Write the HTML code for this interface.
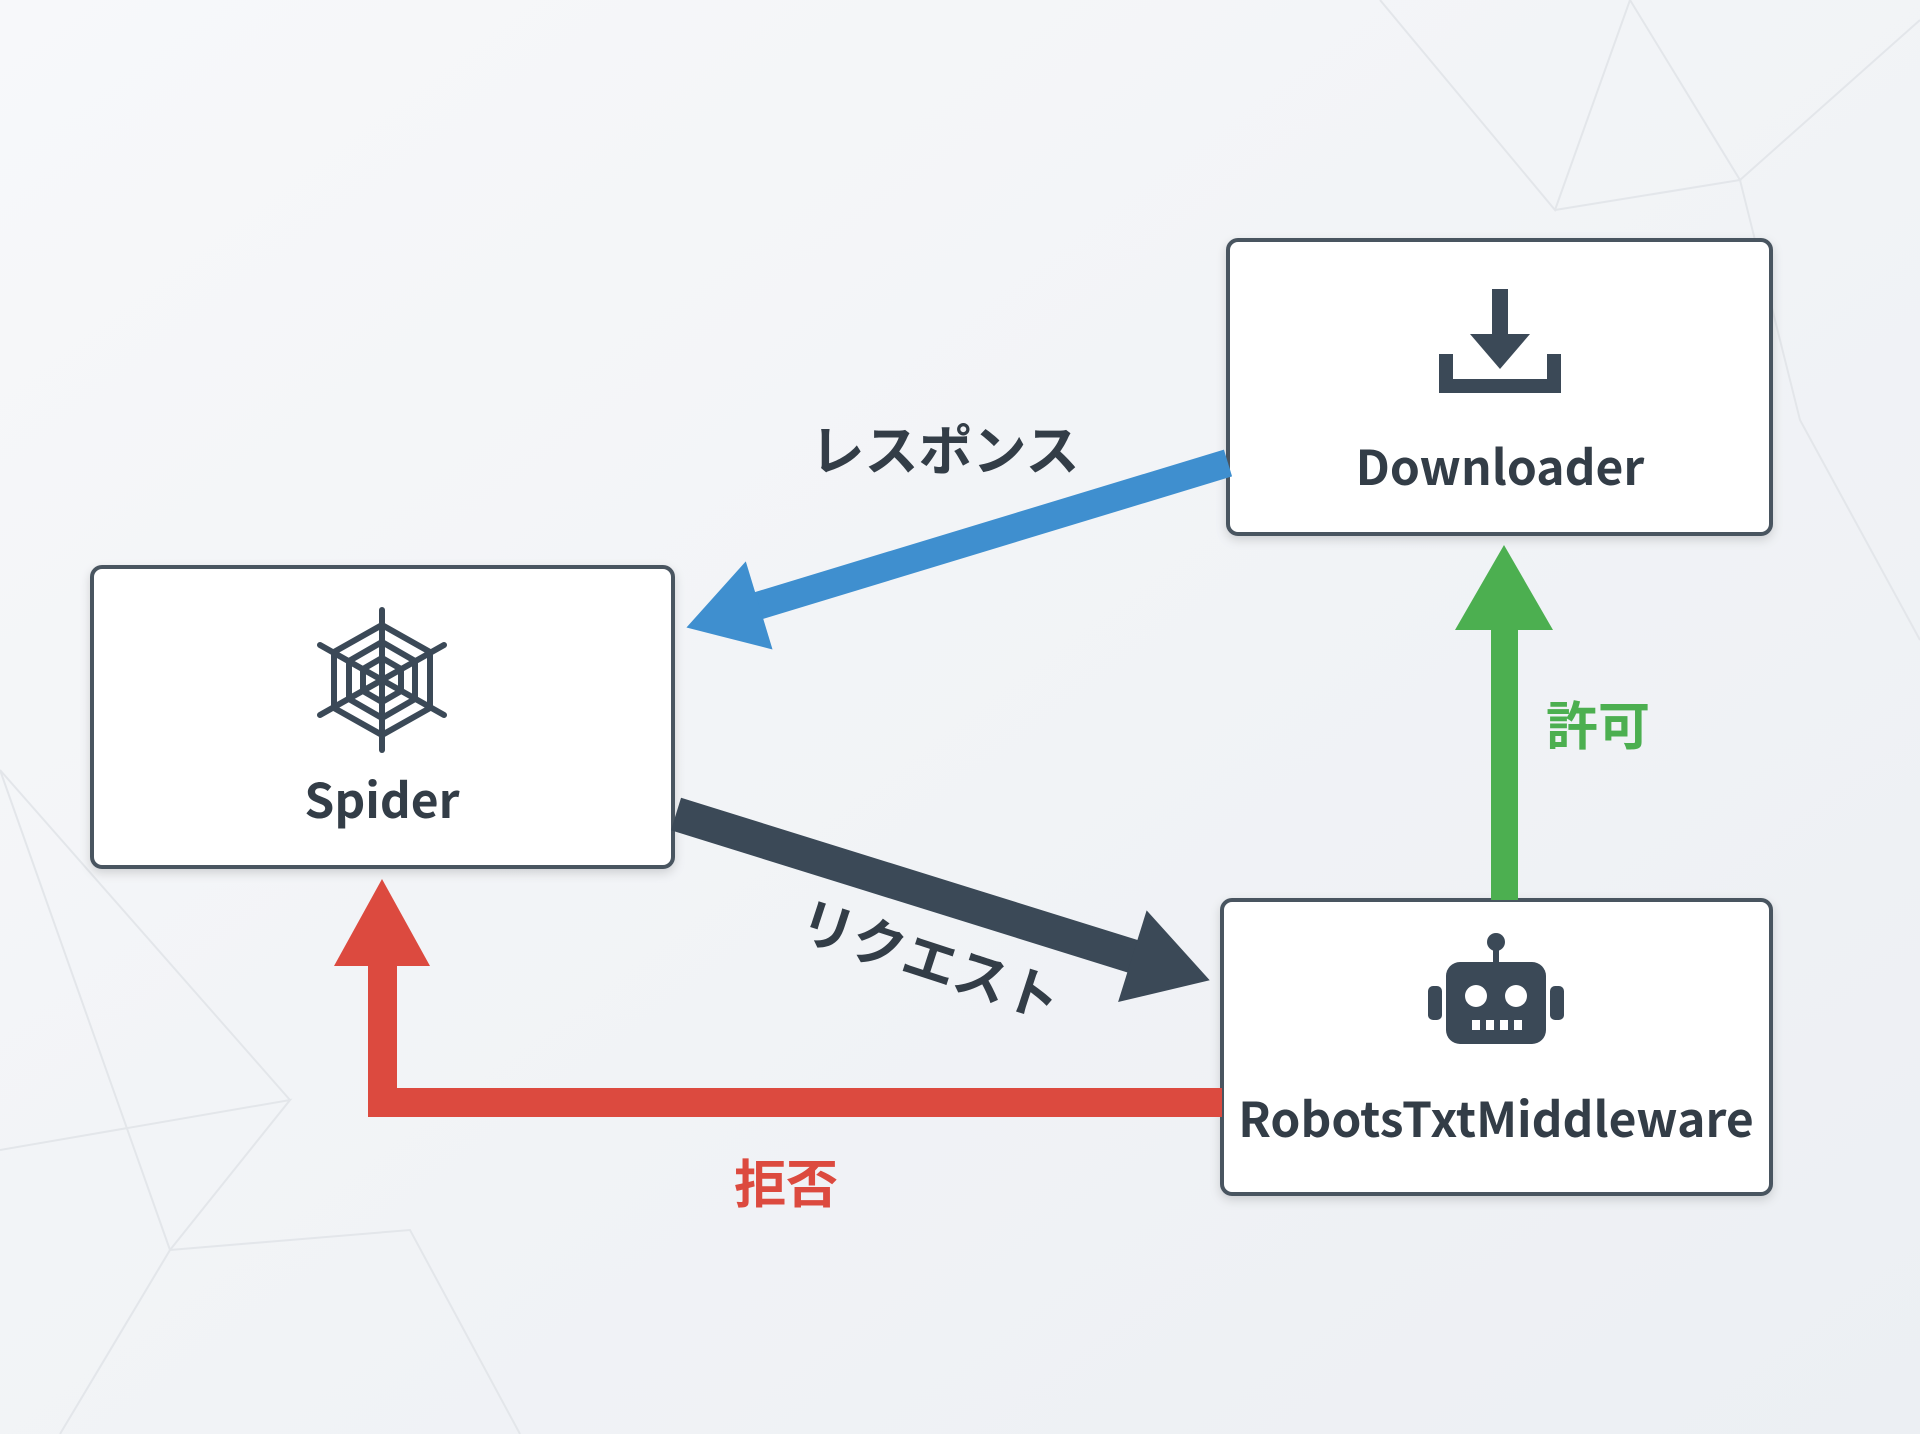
<!DOCTYPE html>
<html><head><meta charset="utf-8"><style>
html,body{margin:0;padding:0;width:1920px;height:1434px;overflow:hidden;background:#f2f4f7;}
svg{display:block}
text{font-family:"Noto Sans CJK JP","Liberation Sans",sans-serif;font-weight:bold;}
</style></head><body>
<svg width="1920" height="1434" viewBox="0 0 1920 1434" xmlns="http://www.w3.org/2000/svg">
<defs>
<linearGradient id="bg" x1="0" y1="0" x2="1" y2="1">
<stop offset="0" stop-color="#f7f8fa"/><stop offset="1" stop-color="#eceff3"/>
</linearGradient>
<filter id="sh" x="-10%" y="-10%" width="120%" height="130%"><feDropShadow dx="0" dy="4" stdDeviation="5" flood-color="#000" flood-opacity="0.15"/></filter>
</defs>
<rect width="1920" height="1434" fill="url(#bg)"/>
<g stroke="#e3e6ea" stroke-width="2" fill="none">
<polyline points="1380,0 1555,210 1630,0 1740,180 1555,210"/>
<polyline points="1740,180 1920,20"/>
<polyline points="1740,180 1800,420 1920,640"/>
<polyline points="0,770 170,1250 290,1100 0,1150"/>
<polyline points="170,1250 60,1434"/>
<polyline points="170,1250 410,1230 520,1434"/>
<polyline points="0,770 290,1100"/>
</g>
<g filter="url(#sh)" fill="#fff" stroke="#4a5560" stroke-width="4">
<rect x="92" y="567" width="581" height="300" rx="10"/>
<rect x="1228" y="240" width="543" height="294" rx="10"/>
<rect x="1222" y="900" width="549" height="294" rx="10"/>
</g>
<g transform="translate(1228,463) rotate(163.1)" fill="#3f8fcf">
<rect x="0" y="-14" width="500" height="28"/>
<polygon points="490,-46 566,0 490,46"/>
</g>
<g transform="translate(676,814) rotate(17.3)" fill="#3b4957">
<rect x="0" y="-17" width="490" height="34"/>
<polygon points="478,-48 559,0 478,48"/>
</g>
<g fill="#4caf50">
<rect x="1491" y="620" width="27" height="280"/>
<polygon points="1455,630 1504,545 1553,630"/>
</g>
<g fill="#dc4a3f">
<rect x="368" y="1088" width="854" height="29"/>
<rect x="368" y="955" width="29" height="162"/>
<polygon points="334,966 382,879 430,966"/>
</g>
<text x="945" y="470" font-size="54" fill="#333d47" text-anchor="middle">レスポンス</text>
<text x="930" y="980" font-size="54" fill="#333d47" text-anchor="middle" transform="rotate(18 930 961)">リクエスト</text>
<text x="1598" y="745" font-size="52" fill="#4caf50" text-anchor="middle">許可</text>
<text x="786" y="1203" font-size="52" fill="#dc4a3f" text-anchor="middle">拒否</text>
<text x="382" y="818" font-size="48" fill="#333d47" text-anchor="middle">Spider</text>
<text x="1500" y="485" font-size="48" fill="#333d47" text-anchor="middle">Downloader</text>
<text x="1496" y="1137" font-size="48" fill="#333d47" text-anchor="middle">RobotsTxtMiddleware</text>
<g transform="translate(382,680)" stroke="#3b4957" stroke-width="6" fill="none" stroke-linecap="round">
<line x1="0" y1="-70" x2="0" y2="70"/>
<line x1="-62" y1="-35" x2="62" y2="35"/>
<line x1="-62" y1="35" x2="62" y2="-35"/>
<polygon points="0,-55 48,-28 48,28 0,55 -48,28 -48,-28"/>
<polygon points="0,-38 33,-19 33,19 0,38 -33,19 -33,-19"/>
<polygon points="0,-22 19,-11 19,11 0,22 -19,11 -19,-11"/>
</g>
<g transform="translate(1500,349)" fill="#3b4957">
<rect x="-8" y="-60" width="16" height="50"/>
<polygon points="-30,-15 30,-15 0,20"/>
<path d="M-61,5 h14 v25 h94 v-25 h14 v39 h-122 z"/>
</g>
<g transform="translate(1496,998)" fill="#3b4957">
<circle cx="0" cy="-56" r="9"/>
<rect x="-3" y="-50" width="6" height="16"/>
<rect x="-50" y="-36" width="100" height="82" rx="14"/>
<rect x="-68" y="-12" width="14" height="34" rx="5"/>
<rect x="54" y="-12" width="14" height="34" rx="5"/>
<circle cx="-20" cy="-2" r="11" fill="#fff"/>
<circle cx="20" cy="-2" r="11" fill="#fff"/>
<g fill="#fff"><rect x="-24" y="22" width="8" height="10"/><rect x="-10" y="22" width="8" height="10"/><rect x="4" y="22" width="8" height="10"/><rect x="18" y="22" width="8" height="10"/></g>
</g>
</svg>
</body></html>
